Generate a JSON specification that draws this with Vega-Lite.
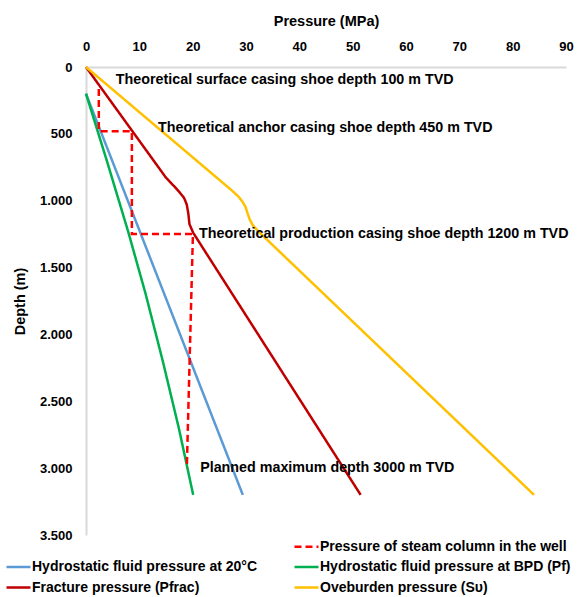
{
  "$schema": "https://vega.github.io/schema/vega-lite/v6.json",
  "width": 480,
  "height": 468,
  "autosize": "none",
  "padding": {"left": 86, "top": 67, "right": 16, "bottom": 62},
  "background": "white",
  "config": {
    "view": {"stroke": null},
    "font": "Liberation Sans",
    "axis": {"grid": false, "ticks": false, "labelFlush": false, "domainColor": "#D9D9D9", "domainWidth": 2, "labelFont": "Liberation Sans", "labelFontWeight": "bold", "labelFontSize": 13, "labelColor": "black", "titleFont": "Liberation Sans", "titleFontWeight": "bold", "titleFontSize": 14.5, "titleColor": "black"},
    "legend": {"title": null, "orient": "none", "legendX": -81, "legendY": 472, "columns": 2, "direction": "horizontal", "symbolType": "M-1,0L3,0", "symbolSize": 144, "symbolStrokeWidth": 2.5, "labelFont": "Liberation Sans", "labelFontWeight": "bold", "labelFontSize": 14, "labelColor": "black", "labelOffset": 12, "columnPadding": 32, "rowPadding": 5.5, "labelLimit": 400}
  },
  "datasets": {
    "lines": [
      {"series": "Hydrostatic fluid pressure at 20°C", "o": 1, "p": 0, "d": 200},
      {"series": "Hydrostatic fluid pressure at 20°C", "o": 2, "p": 29.4, "d": 3200},
      {"series": "Hydrostatic fluid pressure at BPD (Pf)", "o": 1, "p": 0, "d": 200},
      {"series": "Hydrostatic fluid pressure at BPD (Pf)", "o": 2, "p": 3.9, "d": 700},
      {"series": "Hydrostatic fluid pressure at BPD (Pf)", "o": 3, "p": 7.9, "d": 1230},
      {"series": "Hydrostatic fluid pressure at BPD (Pf)", "o": 4, "p": 11.2, "d": 1700},
      {"series": "Hydrostatic fluid pressure at BPD (Pf)", "o": 5, "p": 14.4, "d": 2200},
      {"series": "Hydrostatic fluid pressure at BPD (Pf)", "o": 6, "p": 17.4, "d": 2700},
      {"series": "Hydrostatic fluid pressure at BPD (Pf)", "o": 7, "p": 20.1, "d": 3200},
      {"series": "Fracture pressure (Pfrac)", "o": 1, "p": 0, "d": 0},
      {"series": "Fracture pressure (Pfrac)", "o": 2, "p": 15, "d": 828},
      {"series": "Fracture pressure (Pfrac)", "o": 3, "p": 16.6, "d": 895},
      {"series": "Fracture pressure (Pfrac)", "o": 4, "p": 17.6, "d": 940},
      {"series": "Fracture pressure (Pfrac)", "o": 5, "p": 18.4, "d": 980},
      {"series": "Fracture pressure (Pfrac)", "o": 6, "p": 18.9, "d": 1030},
      {"series": "Fracture pressure (Pfrac)", "o": 7, "p": 19.2, "d": 1100},
      {"series": "Fracture pressure (Pfrac)", "o": 8, "p": 19.4, "d": 1175},
      {"series": "Fracture pressure (Pfrac)", "o": 9, "p": 20.1, "d": 1240},
      {"series": "Fracture pressure (Pfrac)", "o": 10, "p": 51.5, "d": 3200},
      {"series": "Oveburden pressure (Sυ)", "o": 1, "p": 0, "d": 0},
      {"series": "Oveburden pressure (Sυ)", "o": 2, "p": 27.4, "d": 925},
      {"series": "Oveburden pressure (Sυ)", "o": 3, "p": 28.6, "d": 970},
      {"series": "Oveburden pressure (Sυ)", "o": 4, "p": 29.3, "d": 1005},
      {"series": "Oveburden pressure (Sυ)", "o": 5, "p": 29.9, "d": 1045},
      {"series": "Oveburden pressure (Sυ)", "o": 6, "p": 30.3, "d": 1095},
      {"series": "Oveburden pressure (Sυ)", "o": 7, "p": 30.7, "d": 1140},
      {"series": "Oveburden pressure (Sυ)", "o": 8, "p": 31.3, "d": 1185},
      {"series": "Oveburden pressure (Sυ)", "o": 9, "p": 32.2, "d": 1225},
      {"series": "Oveburden pressure (Sυ)", "o": 10, "p": 84, "d": 3200},
      {"series": "Pressure of steam column in the well", "o": 1, "p": 2.4, "d": 165},
      {"series": "Pressure of steam column in the well", "o": 2, "p": 2.4, "d": 480},
      {"series": "Pressure of steam column in the well", "o": 3, "p": 8.6, "d": 480},
      {"series": "Pressure of steam column in the well", "o": 4, "p": 8.6, "d": 1248},
      {"series": "Pressure of steam column in the well", "o": 5, "p": 20.05, "d": 1248},
      {"series": "Pressure of steam column in the well", "o": 6, "p": 18.9, "d": 3000}
    ],
    "labels": [
      {"t": "Theoretical surface casing shoe depth 100 m TVD", "p": 5.6, "d": 100},
      {"t": "Theoretical anchor casing shoe depth 450 m TVD", "p": 13.5, "d": 455},
      {"t": "Theoretical production casing shoe depth 1200 m TVD", "p": 21.2, "d": 1246},
      {"t": "Planned maximum depth 3000 m TVD", "p": 21.4, "d": 3000}
    ]
  },
  "layer": [
    {
      "data": {"name": "lines"},
      "mark": {"type": "line", "strokeWidth": 2.5},
      "encoding": {
        "x": {"field": "p", "type": "quantitative", "scale": {"domain": [0, 90]}, "axis": {"orient": "top", "title": "Pressure (MPa)", "values": [0,10,20,30,40,50,60,70,80,90], "labelPadding": 14, "titlePadding": 12}},
        "y": {"field": "d", "type": "quantitative", "scale": {"domain": [0, 3500], "reverse": true}, "axis": {"title": "Depth (m)", "values": [0,500,1000,1500,2000,2500,3000,3500], "labelPadding": 14, "titlePadding": 12, "labelExpr": "replace(format(datum.value, ','), ',', '.')"}},
        "order": {"field": "o", "type": "quantitative"},
        "color": {"field": "series", "type": "nominal",
          "scale": {"domain": [" ", "Pressure of steam column in the well", "Hydrostatic fluid pressure at 20°C", "Hydrostatic fluid pressure at BPD (Pf)", "Fracture pressure (Pfrac)", "Oveburden pressure (Sυ)"],
                    "range": ["rgba(0,0,0,0)", "#FF0000", "#5B9BD5", "#00B050", "#C00000", "#FFC000"]}},
        "strokeDash": {"field": "series", "type": "nominal",
          "scale": {"domain": [" ", "Pressure of steam column in the well", "Hydrostatic fluid pressure at 20°C", "Hydrostatic fluid pressure at BPD (Pf)", "Fracture pressure (Pfrac)", "Oveburden pressure (Sυ)"],
                    "range": [[1,0],[7,4],[1,0],[1,0],[1,0],[1,0]]}}
      }
    },
    {
      "data": {"name": "labels"},
      "mark": {"type": "text", "align": "left", "baseline": "middle", "fontWeight": "bold", "fontSize": 14.3, "font": "Liberation Sans", "color": "black"},
      "encoding": {
        "x": {"field": "p", "type": "quantitative"},
        "y": {"field": "d", "type": "quantitative"},
        "text": {"field": "t"}
      }
    }
  ]
}
